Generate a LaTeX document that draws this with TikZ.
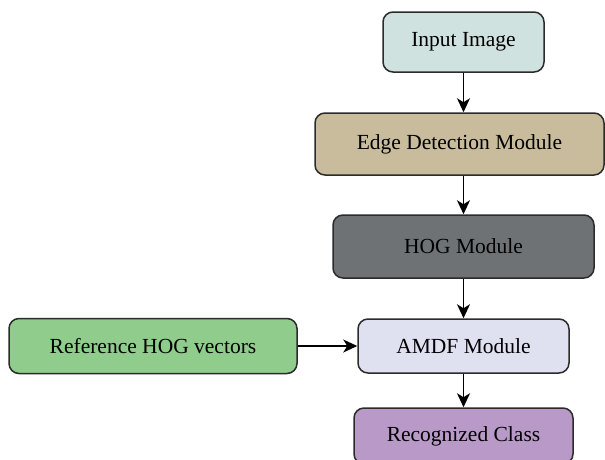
\documentclass[tikz,border=0pt]{standalone}
\usepackage{fontspec}
\setmainfont{Liberation Serif}
\newfontfamily\boxfont{Liberation Serif}
\usetikzlibrary{arrows.meta}
\definecolor{cInput}{HTML}{CFE2E0}
\definecolor{cEdge}{HTML}{C8BC9C}
\definecolor{cHog}{HTML}{6E7275}
\definecolor{cAmdf}{HTML}{DFE0F0}
\definecolor{cRecog}{HTML}{B899C8}
\definecolor{cRef}{HTML}{90CC8C}
\definecolor{cLine}{HTML}{2B2B2B}
\tikzset{
  box/.style={draw=cLine, line width=1.5pt, rounded corners=10pt, inner sep=0pt,
    font=\boxfont\fontsize{21.5}{25}\selectfont, text=black},
  arr/.style={draw=black, line width=1.5pt, -{Stealth[length=14pt,width=13pt,inset=4pt]}}
}
\begin{document}
\begin{tikzpicture}[x=1pt,y=-1pt]
\clip (0,0) rectangle (605,459);
\useasboundingbox (0,0) rectangle (605,459);
\node[box, fill=cInput, minimum width=161pt, minimum height=60pt] (inp) at (463.5,42) {Input Image};
\node[box, fill=cEdge, minimum width=289pt, minimum height=62pt] (edge) at (459.5,144) {Edge Detection Module};
\node[box, fill=cHog, minimum width=261pt, minimum height=63pt] (hog) at (463.5,246.5) {HOG Module};
\node[box, fill=cAmdf, minimum width=211pt, minimum height=54pt] (amdf) at (463.5,346) {AMDF Module};
\node[box, fill=cRef, minimum width=288pt, minimum height=55pt] (ref) at (153,346) {Reference HOG vectors};
\node[box, fill=cRecog, minimum width=219pt, minimum height=56pt] (rec) at (463.5,436) {Recognized Class};
\draw[arr] (inp.south) -- (inp.south |- edge.north);
\draw[arr] (edge.south -| inp.south) -- (hog.north);
\draw[arr] (hog.south) -- (amdf.north);
\draw[arr] (amdf.south) -- (rec.north);
\draw[arr] (ref.east) -- (amdf.west);
\end{tikzpicture}
\end{document}
